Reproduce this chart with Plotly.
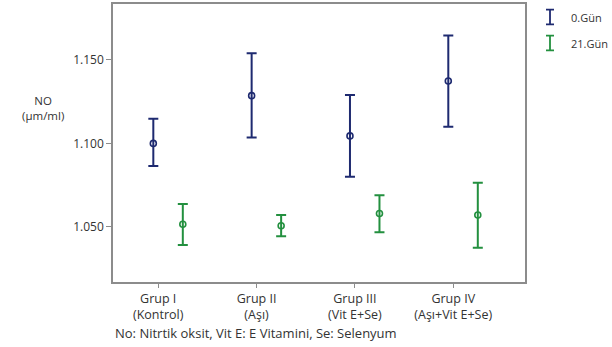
import plotly.graph_objects as go

categories = ["Grup I<br>(Kontrol)", "Grup II<br>(Aşı)", "Grup III<br>(Vit E+Se)", "Grup IV<br>(Aşı+Vit E+Se)"]
series_names = ["0.Gün", "21.Gün"]
day0_mean = [1.100, 1.1286, 1.1045, 1.1374]
day0_upper = [1.1147, 1.1540, 1.1290, 1.1646]
day0_lower = [1.0865, 1.1035, 1.0800, 1.1100]
day21_mean = [1.0516, 1.0507, 1.0580, 1.0571]
day21_upper = [1.0637, 1.0571, 1.0690, 1.0765]
day21_lower = [1.0392, 1.0444, 1.0468, 1.0375]
y_ticks = [1.050, 1.100, 1.150]
y_tick_labels = ["1.050", "1.100", "1.150"]
caption = "No: Nitrtik oksit, Vit E: E Vitamini, Se: Selenyum"
y_title = "NO<br>(μm/ml)"

BLUE = "#1e2a70"
GREEN = "#23903f"
W, H = 612, 347
ML, MB, MT = 113, 65, 4
plot_w = W - ML
main_right = (525 - ML) / plot_w

fig = go.Figure()
series = [
    (day0_mean, day0_upper, day0_lower, BLUE, -0.05),
    (day21_mean, day21_upper, day21_lower, GREEN, 0.25),
]
idx = list(range(len(categories)))
for (m, u, l, c, off), name in zip(series, series_names):
    fig.add_trace(go.Scatter(
        x=[i + off for i in idx], y=m, mode="markers", name=name,
        marker=dict(symbol="circle-open", size=6, color=c, line=dict(width=1.6, color=c)),
        error_y=dict(type="data", symmetric=False,
                     array=[a - b for a, b in zip(u, m)],
                     arrayminus=[b - a for a, b in zip(l, m)],
                     color=c, thickness=2, width=5),
        showlegend=False,
    ))

# legend glyphs (error-bar shaped) drawn on a small helper axis
for k, (name, c) in enumerate(zip(series_names, [BLUE, GREEN])):
    fig.add_trace(go.Scatter(
        x=[0], y=[-k], mode="markers", marker=dict(size=1, color="rgba(0,0,0,0)"),
        error_y=dict(type="constant", value=0.28, color=c, thickness=1.8, width=4),
        xaxis="x2", yaxis="y2", showlegend=False, hoverinfo="skip",
    ))
    fig.add_annotation(x=1.9, y=-k, xref="x2", yref="y2", text=name, showarrow=False,
                       xanchor="left", yanchor="middle",
                       font=dict(size=11, color="#333333", family="Open Sans"))

fig.update_layout(
    width=W, height=H,
    margin=dict(l=ML, r=0, t=MT, b=MB),
    paper_bgcolor="white", plot_bgcolor="white",
    font=dict(family="Open Sans", size=12, color="#333333"),
    xaxis=dict(domain=[0, main_right], range=[-0.46, 3.73],
               tickvals=idx, ticktext=categories,
               showline=True, linecolor="#8c8c8c", linewidth=1.5, mirror=True,
               ticks="outside", ticklen=4, tickcolor="#8c8c8c",
               showgrid=False, zeroline=False,
               tickfont=dict(size=12.5, color="#333333")),
    yaxis=dict(range=[1.0170, 1.1835], tickvals=y_ticks, ticktext=y_tick_labels,
               showline=True, linecolor="#8c8c8c", linewidth=1.5, mirror=True,
               ticks="outside", ticklen=5, tickcolor="#8c8c8c",
               showgrid=False, zeroline=False,
               tickfont=dict(size=12, color="#333333")),
    xaxis2=dict(domain=[(540 - ML) / plot_w, (600 - ML) / plot_w], range=[-1, 5],
                visible=False, anchor="y2"),
    yaxis2=dict(domain=[(H - MB - MT - 52) / (H - MB - MT), 1.0], range=[-1.5, 0.5],
                visible=False, anchor="x2"),
)

fig.add_annotation(text=y_title, xref="paper", yref="paper",
                   x=-0.14, y=0.626, xanchor="center", yanchor="middle",
                   showarrow=False, font=dict(size=11.5, color="#333333"))
fig.add_annotation(text=caption, xref="paper", yref="paper",
                   x=0.0, y=-0.145, xanchor="left", yanchor="top",
                   showarrow=False, font=dict(size=13, color="#333333"))

fig.write_html("out.html", config={"displayModeBar": False},
               post_script="document.body.style.margin='0';document.body.style.padding='0';")
